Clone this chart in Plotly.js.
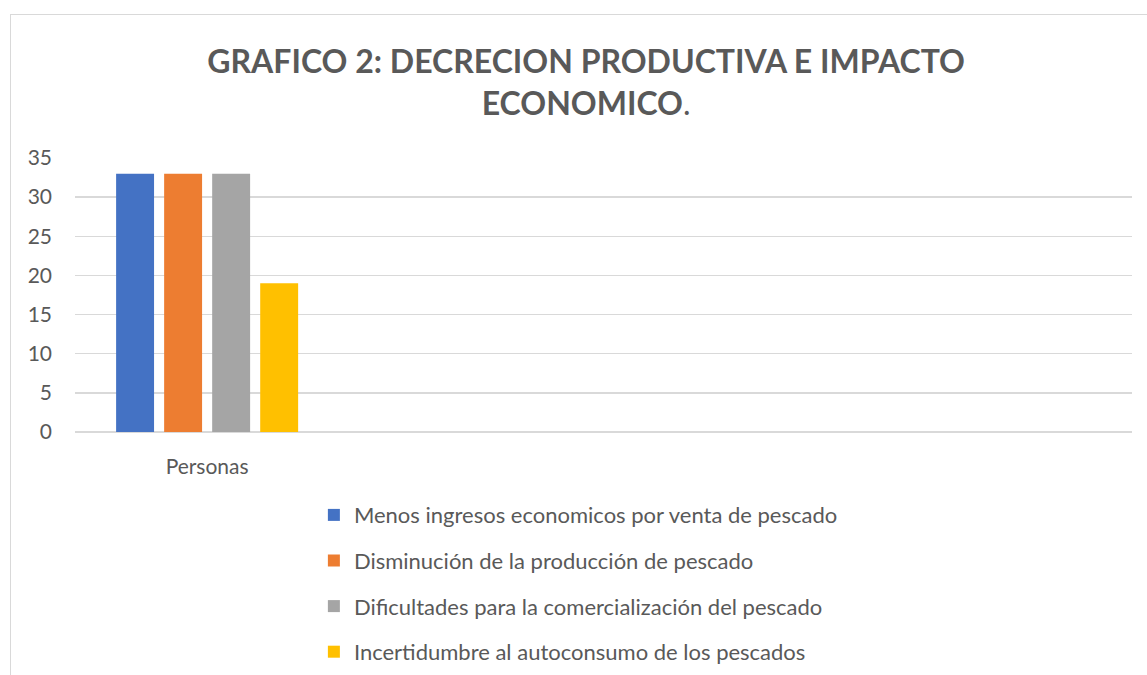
<!DOCTYPE html>
<html>
<head>
<meta charset="utf-8">
<script src="https://cdn.plot.ly/plotly-3.0.1.min.js"></script>
<style>
html,body{margin:0;padding:0;background:#fff;}
#frame{position:absolute;left:10px;top:14px;width:1137px;height:661px;border-left:1.5px solid #d9d9d9;border-top:1.5px solid #d9d9d9;box-sizing:border-box;}
#chart{position:absolute;left:0;top:0;width:1147px;height:675px;}
</style>
</head>
<body>
<div id="frame"></div>
<div id="chart"></div>
<script>
var categories = ["Personas"];
var seriesNames = [
  "Menos ingresos economicos por venta de pescado",
  "Disminución de la producción de pescado",
  "Dificultades para la comercialización del pescado",
  "Incertidumbre al autoconsumo de los pescados"
];
var seriesValues = [33, 33, 33, 19];
var seriesColors = ["#4472c4", "#ed7d31", "#a5a5a5", "#ffc000"];
var yTicks = [0, 5, 10, 15, 20, 25, 30, 35];

var FONT = "Lato, 'Open Sans', sans-serif";
var traces = seriesNames.map(function(name, i){
  return {
    type: "bar",
    name: name,
    x: [0],
    y: [seriesValues[i]],
    marker: {color: seriesColors[i]},
    legendgroup: "g" + i,
    hoverinfo: "y+name"
  };
});

var layout = {
  width: 1147, height: 675,
  paper_bgcolor: "rgba(0,0,0,0)",
  plot_bgcolor: "rgba(0,0,0,0)",
  margin: {l: 75, r: 15, t: 158, b: 243, autoexpand: false},
  font: {family: FONT, color: "#595959", size: 21},
  title: {
    text: "<b>GRAFICO 2: DECRECION PRODUCTIVA E IMPACTO</b><br><b>ECONOMICO</b>.",
    font: {family: FONT, size: 32, color: "#595959"},
    x: 0.511, xanchor: "center",
    yref: "container",
    y: 0.892, yanchor: "top"
  },
  barmode: "group",
  bargap: 0.273,
  bargroupgap: 0.21,
  xaxis: {
    range: [-0.5, 3.5],
    tickvals: [0],
    ticktext: categories,
    showgrid: false,
    zeroline: false,
    showline: false,
    ticks: "",
    ticklabelstandoff: 20,
    tickfont: {size: 21, color: "#595959"},
    fixedrange: true
  },
  yaxis: {
    range: [0, 35],
    tickvals: yTicks,
    showgrid: true,
    gridcolor: "#d9d9d9",
    gridwidth: 1.5,
    zeroline: true,
    zerolinecolor: "#d9d9d9",
    zerolinewidth: 1.5,
    showline: false,
    ticks: "",
    ticklabelstandoff: 22,
    tickfont: {size: 21, color: "#595959"},
    fixedrange: true
  },
  showlegend: true,
  legend: {
    orientation: "v",
    x: 0.226, xanchor: "left",
    yref: "container",
    y: 0.268, yanchor: "top",
    font: {size: 22, color: "#595959", family: FONT},
    traceorder: "grouped",
    tracegroupgap: 14,
    itemwidth: 30,
    bgcolor: "rgba(0,0,0,0)"
  }
};

Plotly.newPlot("chart", traces, layout, {displayModeBar: false, staticPlot: true});
</script>
</body>
</html>
